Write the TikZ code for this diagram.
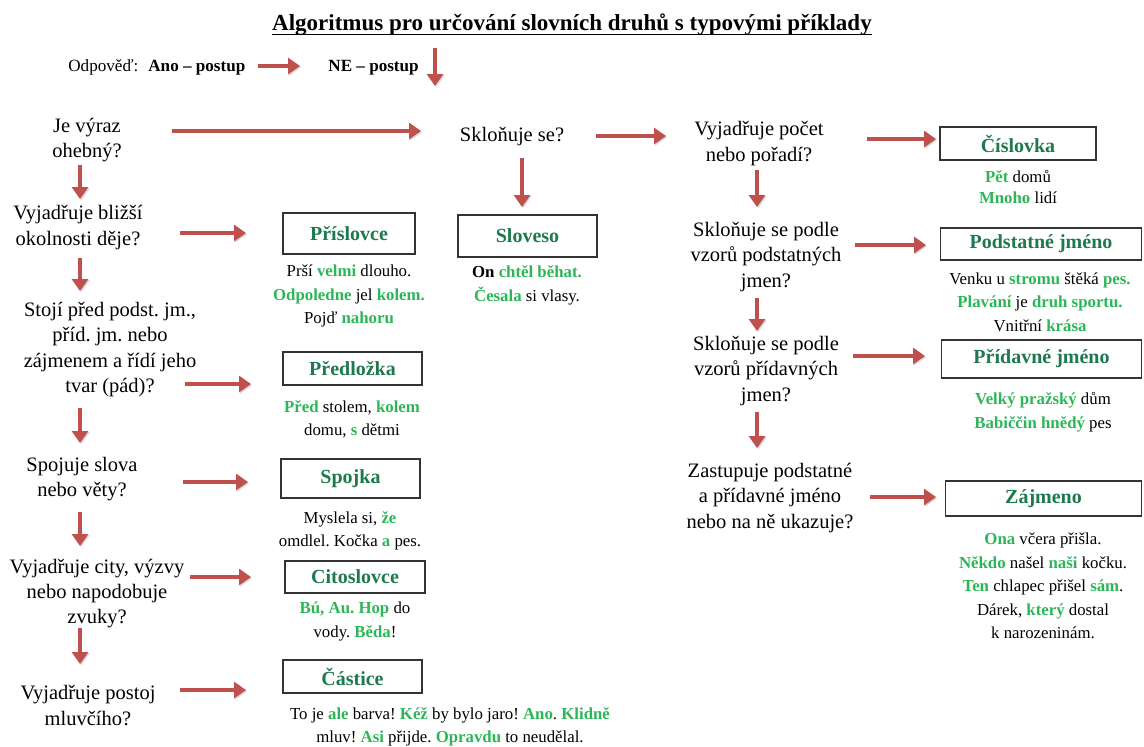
\documentclass[tikz,border=0pt]{standalone}
\usepackage{fontspec}
\setmainfont{Liberation Serif}
\usetikzlibrary{arrows.meta}
\definecolor{arrred}{RGB}{192,80,77}
\definecolor{lblgreen}{RGB}{30,122,78}
\definecolor{exgreen}{RGB}{45,182,88}
\newcommand{\gx}[1]{\textbf{\textcolor{exgreen}{#1}}}
\frenchspacing
\begin{document}
\begin{tikzpicture}[x=0.5pt,y=-0.5pt,
  q/.style={align=center,inner sep=0pt,font=\fontsize{10.25}{12.7}\selectfont},
  ex/.style={align=center,inner sep=0pt,font=\fontsize{8.4}{11.75}\selectfont},
  wbox/.style={draw=black!80,line width=0.9pt,inner sep=0pt,font=\fontsize{10}{12}\selectfont\bfseries\color{lblgreen}},
  arr/.style={draw=arrred,line width=2pt,-{Triangle[length=6pt,width=8pt]},
    preaction={draw=black!30,opacity=0.5,transform canvas={shift={(0.6pt,-0.6pt)}}}}
]
\useasboundingbox (0,0) rectangle (1144,746);

% title
\node[anchor=base,inner sep=0pt,font=\fontsize{11.5}{13}\selectfont\bfseries] (title) at (572,30)
  {Algoritmus pro určování slovních druhů s typovými příklady};
\draw[line width=0.9pt] ([yshift=-2.2pt]title.base west) -- ([yshift=-2.2pt]title.base east);

% legend
\node[anchor=base west,inner sep=0pt,font=\fontsize{8.55}{10}\selectfont] (odp) at (68,71) {Odpověď:};
\node[anchor=base west,inner sep=0pt,font=\fontsize{8.55}{10}\selectfont\bfseries] (ano) at (148,71) {Ano – postup};
\node[anchor=base west,inner sep=0pt,font=\fontsize{8.55}{10}\selectfont\bfseries] (ne) at (328,71) {NE – postup};
\coordinate (l1s) at (258,66); \coordinate (l1e) at (300,66);
\coordinate (l2s) at (435,48); \coordinate (l2e) at (435,86);
\draw[arr] (l1s) -- (l1e);
\draw[arr] (l2s) -- (l2e);

% left questions
\node[q] (q1) at (87,140) {Je výraz\\ohebný?};
\node[q] (q2) at (78,227.5) {Vyjadřuje bližší\\okolnosti děje?};
\node[q] (q3) at (110,349.5) {Stojí před podst. jm.,\\příd. jm. nebo\\zájmenem a řídí jeho\\tvar (pád)?};
\node[q] (q4) at (82,479) {Spojuje slova\\nebo věty?};
\node[q] (q5) at (97,593.5) {Vyjadřuje city, výzvy\\nebo napodobuje\\zvuky?};
\node[q] (q6) at (88,705.5) {Vyjadřuje postoj\\mluvčího?};

% middle/right questions
\node[q] (qs) at (512,137) {Skloňuje se?};
\node[q] (qr1) at (759,143.5) {Vyjadřuje počet\\nebo pořadí?};
\node[q] (qr2) at (766,257) {Skloňuje se podle\\vzorů podstatných\\jmen?};
\node[q] (qr3) at (766,371) {Skloňuje se podle\\vzorů přídavných\\jmen?};
\node[q] (qr4) at (770,498) {Zastupuje podstatné\\a přídavné jméno\\nebo na ně ukazuje?};

% boxes
\node[wbox,minimum width=66pt,minimum height=20.5pt] (b1) at (349,233.5) {Příslovce};
\node[wbox,minimum width=69.5pt,minimum height=21pt] (bs) at (527.5,236) {Sloveso};
\node[wbox,minimum width=69.5pt,minimum height=16.5pt] (b2) at (352.5,368.5) {Předložka};
\node[wbox,minimum width=69.5pt,minimum height=19.5pt] (b3) at (350.5,478.5) {Spojka};
\node[wbox,minimum width=70pt,minimum height=16pt] (b4) at (355,577) {Citoslovce};
\node[wbox,minimum width=69.5pt,minimum height=16.5pt] (b5) at (352.5,676.5) {Částice};
\node[wbox,minimum width=78pt,minimum height=16.5pt] (br1) at (1018,143.5) {Číslovka};
\node[wbox,minimum width=100.5pt,minimum height=16pt] (br2) at (1041,244) {Podstatné jméno};
\node[wbox,minimum width=100pt,minimum height=19pt] (br3) at (1041.5,359) {Přídavné jméno};
\node[wbox,minimum width=98pt,minimum height=17.5pt] (br4) at (1043.5,498.5) {Zájmeno};

% examples
\node[ex] (e1) at (349,296) {Prší \gx{velmi} dlouho.\\\gx{Odpoledne} jel \gx{kolem.}\\Pojď \gx{nahoru}};
\node[ex] (es) at (527,285.5) {\textbf{On} \gx{chtěl běhat.}\\\gx{Česala} si vlasy.};
\node[ex] (e2) at (352,419.5) {\gx{Před} stolem, \gx{kolem}\\domu, \gx{s} dětmi};
\node[ex] (e3) at (350,531) {Myslela si, \gx{že}\\omdlel. Kočka \gx{a} pes.};
\node[ex] (e4) at (355,621.5) {\gx{Bú, Au. Hop} do\\vody. \gx{Běda}!};
\node[ex] (e5) at (450,727) {To je \gx{ale} barva! \gx{Kéž} by bylo jaro! \gx{Ano}. \gx{Klidně}\\mluv! \gx{Asi} přijde. \gx{Opravdu} to neudělal.};
\node[ex,font=\fontsize{8.4}{10.5}\selectfont] (er1) at (1018,187) {\gx{Pět} domů\\\gx{Mnoho} lidí};
\node[ex] (er2) at (1040,302) {Venku u \gx{stromu} štěká \gx{pes.}\\\gx{Plavání} je \gx{druh sportu.}\\Vnitřní \gx{krása}};
\node[ex] (er3) at (1043,412) {\gx{Velký pražský} dům\\\gx{Babiččin hnědý} pes};
\node[ex] (er4) at (1043,586) {\gx{Ona} včera přišla.\\\gx{Někdo} našel \gx{naši} kočku.\\\gx{Ten} chlapec přišel \gx{sám}.\\Dárek, \gx{který} dostal\\k narozeninám.};

% arrow end points
\coordinate (a1s) at (172,131); \coordinate (a1e) at (421,131);
\coordinate (a2s) at (180,233); \coordinate (a2e) at (246,233);
\coordinate (a3s) at (185,384); \coordinate (a3e) at (251,384);
\coordinate (a4s) at (183,482); \coordinate (a4e) at (248,482);
\coordinate (a5s) at (190,577); \coordinate (a5e) at (251,577);
\coordinate (a6s) at (180,690); \coordinate (a6e) at (246,690);
\coordinate (d1s) at (80,165); \coordinate (d1e) at (80,199);
\coordinate (d2s) at (80,258); \coordinate (d2e) at (80,291);
\coordinate (d3s) at (80,408); \coordinate (d3e) at (80,443);
\coordinate (d4s) at (80,512); \coordinate (d4e) at (80,546);
\coordinate (d5s) at (80,628); \coordinate (d5e) at (80,664);
\coordinate (ms) at (596,136); \coordinate (me) at (666,136);
\coordinate (mds) at (522,158); \coordinate (mde) at (522,207);
\coordinate (r1s) at (867,139); \coordinate (r1e) at (936,139);
\coordinate (r2s) at (855,245); \coordinate (r2e) at (926,245);
\coordinate (r3s) at (853,356); \coordinate (r3e) at (925,356);
\coordinate (r4s) at (870,497); \coordinate (r4e) at (936,497);
\coordinate (rd1s) at (757,170); \coordinate (rd1e) at (757,207);
\coordinate (rd2s) at (757,298); \coordinate (rd2e) at (757,331);
\coordinate (rd3s) at (757,412); \coordinate (rd3e) at (757,448);

\foreach \s/\e in {a1s/a1e,a2s/a2e,a3s/a3e,a4s/a4e,a5s/a5e,a6s/a6e,
  d1s/d1e,d2s/d2e,d3s/d3e,d4s/d4e,d5s/d5e,ms/me,mds/mde,
  r1s/r1e,r2s/r2e,r3s/r3e,r4s/r4e,rd1s/rd1e,rd2s/rd2e,rd3s/rd3e}
  \draw[arr] (\s) -- (\e);
\end{tikzpicture}
\end{document}
